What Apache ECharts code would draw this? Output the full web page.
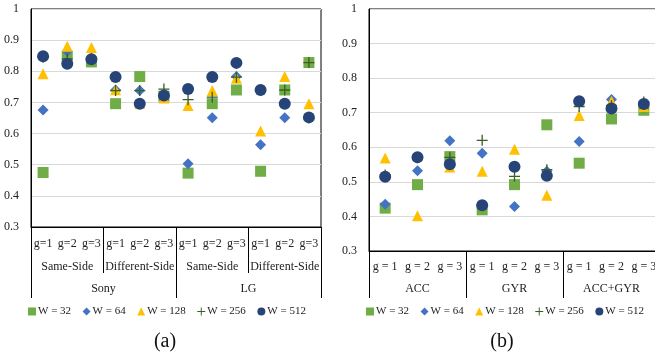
<!DOCTYPE html>
<html>
<head>
<meta charset="utf-8" />
<title>W comparison</title>
<style>
  html, body { margin: 0; padding: 0; overflow: hidden; background: #fff; }
</style>
</head>
<body>
<div id="main" style="width: 672px; height: 358px"></div>
<script src="https://cdn.jsdelivr.net/npm/echarts@6/dist/echarts.min.js"></script>
<script>
const gLabelsA = ['g=1', 'g=2', 'g=3', 'g=1', 'g=2', 'g=3', 'g=1', 'g=2', 'g=3', 'g=1', 'g=2', 'g=3'];
const sideLabelsA = ['Same-Side', 'Different-Side', 'Same-Side', 'Different-Side'];
const deviceLabelsA = ['Sony', 'LG'];
const gLabelsB = ['g = 1', 'g = 2', 'g = 3', 'g = 1', 'g = 2', 'g = 3', 'g = 1', 'g = 2', 'g = 3'];
const sensorLabelsB = ['ACC', 'GYR', 'ACC+GYR'];
const seriesNames = ['W = 32', 'W = 64', 'W = 128', 'W = 256', 'W = 512'];

// panel (a)
const a32 = [0.475, 0.848, 0.830, 0.696, 0.783, 0.720, 0.473, 0.696, 0.740, 0.479, 0.740, 0.828];
const a64 = [0.676, 0.864, 0.840, 0.740, 0.738, 0.720, 0.503, 0.651, 0.783, 0.564, 0.651, 0.650];
const a128 = [0.792, 0.880, 0.876, 0.741, 0.697, 0.714, 0.690, 0.738, 0.778, 0.608, 0.783, 0.696];
const a256 = [0.845, 0.840, 0.840, 0.738, 0.738, 0.743, 0.709, 0.717, 0.781, 0.740, 0.740, 0.828];
const a512 = [0.848, 0.824, 0.839, 0.782, 0.696, 0.722, 0.743, 0.782, 0.827, 0.740, 0.696, 0.652];

// panel (b)
const b32 = [0.424, 0.492, 0.573, 0.419, 0.492, 0.665, 0.554, 0.682, 0.707];
const b64 = [0.435, 0.532, 0.619, 0.583, 0.429, 0.531, 0.617, 0.738, 0.716];
const b128 = [0.569, 0.402, 0.543, 0.531, 0.594, 0.461, 0.692, 0.733, 0.718];
const b256 = [0.520, 0.570, 0.571, 0.620, 0.516, 0.535, 0.718, 0.720, 0.731];
const b512 = [0.515, 0.571, 0.551, 0.432, 0.544, 0.518, 0.733, 0.712, 0.725];

const yTicks = { min: 0.3, max: 1, interval: 0.1 };

const font = 'Liberation Serif';
const txt = '#222';
const plus = 'path://M4.4,0H5.6V4.4H10V5.6H5.6V10H4.4V5.6H0V4.4H4.4Z';
const styles = [
  { symbol: 'rect', size: 11, color: '#70AD47' },
  { symbol: 'diamond', size: 11, color: '#4472C4' },
  { symbol: 'triangle', size: 11, color: '#FFC000' },
  { symbol: plus, size: 11, color: '#3B5E24' },
  { symbol: 'circle', size: 12, color: '#264478' }
];

const chart = echarts.init(document.getElementById('main'));

function yAxis(gridIndex) {
  return {
    type: 'value', gridIndex, min: yTicks.min, max: yTicks.max, interval: yTicks.interval,
    axisLine: { show: true, lineStyle: { color: '#000', width: 1 } },
    axisTick: { show: false },
    splitLine: { lineStyle: { color: '#d9d9d9', width: 1 } },
    axisLabel: { color: txt, fontFamily: font, fontSize: 12, margin: 12 }
  };
}

function catAxis(gridIndex, data, tickLen, margin, showLine) {
  return {
    type: 'category', gridIndex, position: 'bottom', data,
    axisLine: { show: showLine, lineStyle: { color: '#000', width: 1 } },
    axisTick: { show: tickLen > 0, length: tickLen, lineStyle: { color: '#000', width: 1 } },
    splitLine: { show: false },
    axisLabel: { color: txt, fontFamily: font, fontSize: 12, margin, interval: 0 }
  };
}

const dataA = [a32, a64, a128, a256, a512];
const dataB = [b32, b64, b128, b256, b512];
const series = [];
dataA.forEach((d, i) => series.push({
  name: seriesNames[i], type: 'scatter', xAxisIndex: 0, yAxisIndex: 0,
  symbol: styles[i].symbol, symbolSize: styles[i].size,
  itemStyle: { color: styles[i].color, opacity: 1 }, data: d, z: 2 + i
}));
dataB.forEach((d, i) => series.push({
  name: seriesNames[i], type: 'scatter', xAxisIndex: 3, yAxisIndex: 1,
  symbol: styles[i].symbol, symbolSize: styles[i].size,
  itemStyle: { color: styles[i].color, opacity: 1 }, data: d, z: 2 + i
}));

function legend(left) {
  return {
    left, top: 306, itemWidth: 8, itemHeight: 8, itemGap: 11.5, padding: 0,
    textStyle: { color: txt, fontFamily: font, fontSize: 11, padding: [0, 0, 0, -3] },
    data: seriesNames.map((n, i) => ({ name: n, icon: styles[i].symbol }))
  };
}

chart.setOption({
  animation: false,
  grid: [
    { left: 31, top: 9, width: 290, height: 218, show: true, borderColor: '#000', borderWidth: 1 },
    { left: 369, top: 9, width: 291, height: 242, show: true, borderColor: '#000', borderWidth: 1 }
  ],
  xAxis: [
    catAxis(0, gLabelsA, 0, 11, true),
    catAxis(0, sideLabelsA, 46, 34, false),
    catAxis(0, deviceLabelsA, 71, 56, false),
    catAxis(1, gLabelsB, 0, 10, true),
    catAxis(1, sensorLabelsB, 47, 32, false)
  ],
  yAxis: [yAxis(0), yAxis(1)],
  legend: [legend(28), legend(366)],
  graphic: [
    { type: 'text', x: 165, y: 342, style: { text: '(a)', font: '20px "Liberation Serif"', fill: '#111', align: 'center', verticalAlign: 'middle' } },
    { type: 'text', x: 502, y: 342, style: { text: '(b)', font: '20px "Liberation Serif"', fill: '#111', align: 'center', verticalAlign: 'middle' } }
  ],
  series
});
</script>
</body>
</html>
